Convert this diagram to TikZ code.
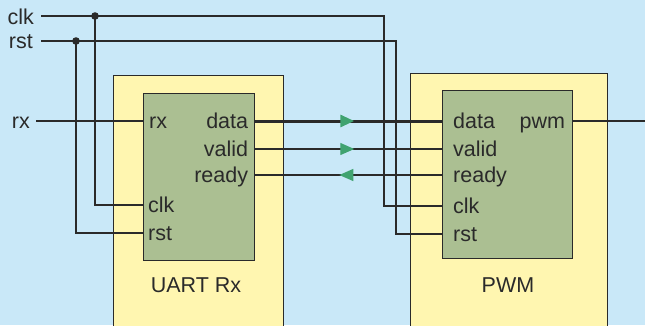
\documentclass[tikz,border=0pt]{standalone}
\usepackage{fontspec}
\setmainfont{Liberation Sans}
\usetikzlibrary{arrows.meta,decorations.markings}

\definecolor{bgblue}{RGB}{201,232,248}
\definecolor{shell}{RGB}{255,246,176}
\definecolor{core}{RGB}{171,191,146}
\definecolor{flow}{RGB}{64,163,112}
\definecolor{wire}{RGB}{42,42,42}

\tikzset{
  shellbox/.style={draw=wire, fill=shell, line width=1.3pt, anchor=north west, inner sep=0pt},
  corebox/.style={draw=wire, fill=core, line width=1.3pt, anchor=north west, inner sep=0pt},
  sig/.style={draw=wire, line width=1.3pt},
  bus/.style={draw=wire, line width=3pt},
  lbl/.style={font=\fontsize{21.5}{25}\selectfont, text=wire, inner sep=0pt},
  fwd/.style={postaction={decorate, decoration={markings,
    mark=at position #1 with {\arrow[flow]{Triangle[length=14pt,width=12pt]}}}}},
}

\begin{document}
\begin{tikzpicture}[x=1pt,y=-1pt]
    \clip (0,0) rectangle (645,325);
    \fill[bgblue] (0,0) rectangle (645,325);

    % blocks
    \node[shellbox, minimum width=170pt, minimum height=270pt] (ushell) at (113,75) {};
    \node[corebox, minimum width=111pt, minimum height=167pt] (ucore) at (143,93) {};
    \node[shellbox, minimum width=197pt, minimum height=270pt] (pshell) at (410,73) {};
    \node[corebox, minimum width=130pt, minimum height=168pt] (pcore) at (442,90) {};
    \node[lbl] (uname) at (196,285) {UART Rx};
    \node[lbl] (pname) at (508,285) {PWM};

    % ports of the receiver
    \coordinate (u-rx) at (ucore.west |- 0,121);
    \node[lbl, anchor=base west] (u-rx-l) at ([xshift=6pt,yshift=-7pt]u-rx) {rx};
    \foreach \p/\y in {data/121, valid/149, ready/175} {
        \coordinate (u-\p) at (ucore.east |- 0,\y);
        \node[lbl, anchor=base east] (u-\p-l) at ([xshift=-7pt,yshift=-7pt]u-\p) {\p};
    }
    \foreach \p/\y in {clk/205, rst/233} {
        \coordinate (u-\p) at (ucore.west |- 0,\y);
        \node[lbl, anchor=base west] (u-\p-l) at ([xshift=5pt,yshift=-7pt]u-\p) {\p};
    }

    % ports of the pwm block
    \foreach \p/\y in {data/121, valid/149, ready/175, clk/206, rst/234} {
        \coordinate (p-\p) at (pcore.west |- 0,\y);
        \node[lbl, anchor=base west] (p-\p-l) at ([xshift=11pt,yshift=-7pt]p-\p) {\p};
    }
    \coordinate (p-pwm) at (pcore.east |- 0,121);
    \node[lbl, anchor=base east] (p-pwm-l) at ([xshift=-8pt,yshift=-7pt]p-pwm) {pwm};

    % inputs on the left
    \coordinate (clkin) at (41,16);
    \coordinate (rstin) at (41,41);
    \coordinate (rxin) at (36,121);
    \node[lbl, anchor=base east] (clk-l) at (34,24) {clk};
    \node[lbl, anchor=base east] (rst-l) at (33,48) {rst};
    \node[lbl, anchor=base east] (rx-l) at (30,128) {rx};
    \coordinate (clkdot) at (95,16);
    \coordinate (rstdot) at (76,41);
    \coordinate (clkturn) at (384,16);
    \coordinate (rstturn) at (396,41);
    \coordinate (pwmout) at (646,121);

    % wires
    \draw[sig] (clkin) -- (clkturn) |- (p-clk);
    \draw[sig] (rstin) -- (rstturn) |- (p-rst);
    \draw[sig] (clkdot) |- (u-clk);
    \draw[sig] (rstdot) |- (u-rst);
    \fill[wire] (clkdot) circle (3.8pt);
    \fill[wire] (rstdot) circle (3.8pt);
    \draw[sig] (rxin) -- (u-rx);
    \draw[bus, fwd=0.53] (u-data) -- (p-data);
    \draw[sig, fwd=0.53] (u-valid) -- (p-valid);
    \draw[sig, fwd=0.55] (p-ready) -- (u-ready);
    \draw[sig] (p-pwm) -- (pwmout);
\end{tikzpicture}
\end{document}
